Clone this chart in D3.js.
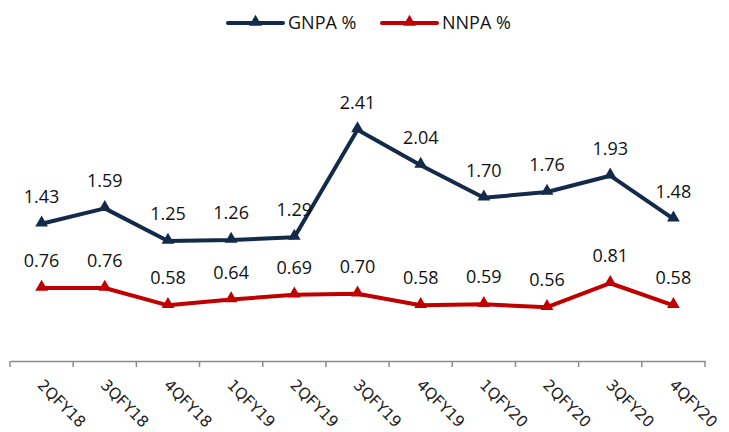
<!DOCTYPE html>
<html>
<head>
<meta charset="utf-8">
<script src="https://cdn.jsdelivr.net/npm/d3@7"></script>
<style>
  html, body { margin: 0; padding: 0; background: #fff; }
  svg { display: block; font-family: "Open Sans", "Liberation Sans", sans-serif; }
</style>
</head>
<body>
<svg id="chart" width="729" height="432"></svg>
<script>
// Quarterly asset-quality ratios
const quarters = ["2QFY18", "3QFY18", "4QFY18", "1QFY19", "2QFY19", "3QFY19",
                  "4QFY19", "1QFY20", "2QFY20", "3QFY20", "4QFY20"];
const gnpa = [1.43, 1.59, 1.25, 1.26, 1.29, 2.41, 2.04, 1.70, 1.76, 1.93, 1.48];
const nnpa = [0.76, 0.76, 0.58, 0.64, 0.69, 0.70, 0.58, 0.59, 0.56, 0.81, 0.58];
const seriesNames = ["GNPA %", "NNPA %"];
const seriesColors = ["#132A4A", "#C00000"];

const svg = d3.select("#chart");
const W = 729, H = 432;
const margin = { left: 10, right: 24, top: 73, bottom: 71 };

const x = d3.scaleBand()
  .domain(quarters)
  .range([margin.left, W - margin.right]);

const y = d3.scaleLinear()
  .domain([0, 3])
  .range([H - margin.bottom, margin.top]);

// Category axis along the zero line
const xAxis = svg.append("g")
  .attr("transform", `translate(0,${y(0)})`)
  .call(d3.axisBottom(x).tickSize(0).tickPadding(0));
xAxis.select(".domain").attr("stroke", "#8c8c8c").attr("stroke-width", 1.5);
xAxis.selectAll(".tick text").remove();

// Tick marks at band boundaries
const bounds = quarters.map(q => x(q)).concat([x(quarters[quarters.length - 1]) + x.bandwidth()]);
svg.append("g").selectAll("line")
  .data(bounds)
  .join("line")
  .attr("x1", d => d).attr("x2", d => d)
  .attr("y1", y(0)).attr("y2", y(0) + 6)
  .attr("stroke", "#8c8c8c").attr("stroke-width", 1.5);

// Rotated category labels
svg.append("g").selectAll("text")
  .data(quarters)
  .join("text")
  .attr("transform", d => `translate(${x(d) + x.bandwidth() / 2 - 5},${y(0) + 25}) rotate(45)`)
  .attr("text-anchor", "start")
  .attr("font-family", "'DejaVu Sans', Verdana, sans-serif")
  .attr("font-size", 15.5)
  .attr("fill", "#222")
  .text(d => d);

const line = d3.line()
  .x((d, i) => x(quarters[i]) + x.bandwidth() / 2)
  .y(d => y(d));

const tri = d3.symbol().type(d3.symbolTriangle).size(70);

[gnpa, nnpa].forEach((vals, si) => {
  const g = svg.append("g");
  g.append("path")
    .datum(vals)
    .attr("d", line)
    .attr("fill", "none")
    .attr("stroke", seriesColors[si])
    .attr("stroke-width", 4)
    .attr("stroke-linejoin", "round");
  g.selectAll("path.pt")
    .data(vals)
    .join("path")
    .attr("class", "pt")
    .attr("d", tri)
    .attr("transform", (d, i) => `translate(${x(quarters[i]) + x.bandwidth() / 2},${y(d) - 1})`)
    .attr("fill", seriesColors[si]);
  g.selectAll("text")
    .data(vals)
    .join("text")
    .attr("x", (d, i) => x(quarters[i]) + x.bandwidth() / 2)
    .attr("y", d => y(d) - 21)
    .attr("text-anchor", "middle")
    .attr("font-size", 18)
    .attr("fill", "#111")
    .text(d => d.toFixed(2));
});

// Legend
const legend = svg.append("g");
const legendX = [228, 382];
seriesNames.forEach((name, i) => {
  const lg = legend.append("g").attr("transform", `translate(${legendX[i]},23)`);
  lg.append("line")
    .attr("x1", 0).attr("x2", 55)
    .attr("stroke", seriesColors[i]).attr("stroke-width", 4)
    .attr("stroke-linecap", "round");
  lg.append("path")
    .attr("d", tri)
    .attr("transform", "translate(27.5,-1)")
    .attr("fill", seriesColors[i]);
  lg.append("text")
    .attr("x", 60).attr("y", 6)
    .attr("font-size", 18)
    .attr("fill", "#111")
    .text(name);
});
</script>
</body>
</html>
